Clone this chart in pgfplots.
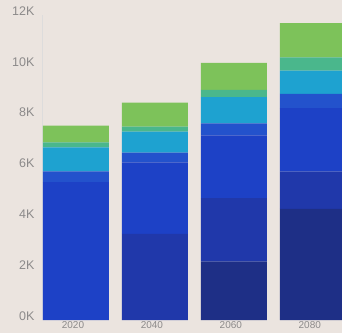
\documentclass[border=0pt]{standalone}
\usepackage{fontspec}
\setmainfont{Liberation Sans}
\usepackage{pgfplots}
\pgfplotsset{compat=1.18}

\definecolor{bg}{HTML}{EBE4DF}
\definecolor{tick}{HTML}{8C8A8A}
\definecolor{cA}{HTML}{1E2F86}
\definecolor{cB}{HTML}{2038AA}
\definecolor{cC}{HTML}{1D41C6}
\definecolor{cD}{HTML}{2352CC}
\definecolor{cE}{HTML}{1EA2D0}
\definecolor{cF}{HTML}{4AB78C}
\definecolor{cG}{HTML}{7DC25A}

\begin{document}
\begin{tikzpicture}
\useasboundingbox (-42pt,-13pt) rectangle (300pt,320pt);
\clip (-42pt,-13pt) rectangle (300pt,320pt);
\fill[bg] (-42pt,-13pt) rectangle (300pt,320pt);
\begin{axis}[
  at={(0pt,0pt)}, anchor=south west,
  scale only axis, width=300pt, height=305pt,
  ybar stacked, bar width=66pt,
  xmin=-0.43, xmax=3.37, ymin=0, ymax=12,
  axis lines*=left,
  x axis line style={draw=none},
  y axis line style={draw=tick!30},
  major tick length=0pt,
  xtick={0,1,2,3}, xticklabels={2020,2040,2060,2080},
  ytick={0,2,4,6,8,10,12}, yticklabels={0K,2K,4K,6K,8K,10K,12K},
  tick label style={text=tick},
  yticklabel style={font=\fontsize{12.5}{14}\selectfont, xshift=-4pt, yshift=4pt},
  xticklabel style={font=\fontsize{10}{11}\selectfont, inner sep=1.5pt, xshift=-3pt},
  every axis plot/.append style={draw=none},
]
% stacked layers, bottom to top
\addplot[fill=cA] coordinates {(0,0)    (1,0)    (2,2.30) (3,4.37)};
\addplot[fill=cB] coordinates {(0,0)    (1,3.39) (2,2.50) (3,1.47)};
\addplot[fill=cC] coordinates {(0,5.42) (1,2.81) (2,2.46) (3,2.50)};
\addplot[fill=cD] coordinates {(0,0.43) (1,0.39) (2,0.48) (3,0.56)};
\addplot[fill=cE] coordinates {(0,0.94) (1,0.82) (2,1.03) (3,0.91)};
\addplot[fill=cF] coordinates {(0,0.20) (1,0.20) (2,0.28) (3,0.52)};
\addplot[fill=cG] coordinates {(0,0.66) (1,0.94) (2,1.07) (3,1.35)};
\end{axis}
\end{tikzpicture}
\end{document}
